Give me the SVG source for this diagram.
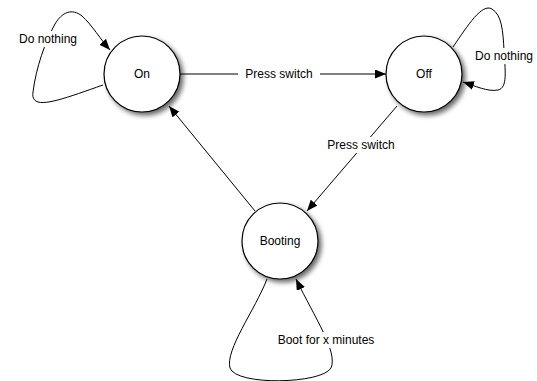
<svg xmlns="http://www.w3.org/2000/svg" width="537" height="381" viewBox="0 0 537 381">
<defs>
<filter id="sh" x="-30%" y="-30%" width="170%" height="170%">
<feGaussianBlur in="SourceAlpha" stdDeviation="2.5"/>
<feOffset dx="3" dy="3" result="b"/>
<feComponentTransfer><feFuncA type="linear" slope="0.6"/></feComponentTransfer>
<feMerge><feMergeNode/><feMergeNode in="SourceGraphic"/></feMerge>
</filter>
<marker id="ah" markerWidth="12" markerHeight="10" refX="11" refY="4.5" orient="auto" markerUnits="userSpaceOnUse">
<path d="M0,0 L11,4.5 L0,9 Z" fill="#000"/>
</marker>
</defs>
<style>
.st{fill:#fff;stroke:#000;stroke-width:1.2;filter:url(#sh)}
.e{fill:none;stroke:#000;stroke-width:1;marker-end:url(#ah)}
text{font-family:"Liberation Sans",Arial,sans-serif;font-size:12px;fill:#000}
.lb{fill:#fff}
</style>
<rect width="537" height="381" fill="#fff"/>
<g id="connectors">
<path class="e" d="M180,74 L386,74"/>
<path class="e" d="M397,106 L307,211"/>
<path class="e" d="M255,211 L169,106"/>
<path class="e" d="M103,85 C60,100 30,112 33,92 C36,68 45,42 55,24 C62,12 72,8 82,16 C92,25 101,40 110,50"/>
<path class="e" d="M453,47 C468,25 482,3 492,9 C502,15 503,32 504,50 C505,70 508,88 498,90 C488,92 475,86 463,82"/>
<path class="e" d="M267,279 C255,310 225,350 230,368 C236,386 322,384 331,368 C338,352 315,318 296,279"/>
<rect class="lb" x="238" y="66" width="82" height="16"/>
<text x="279" y="78" text-anchor="middle">Press switch</text>
<rect class="lb" x="324" y="137" width="74" height="16"/>
<text x="361" y="149" text-anchor="middle">Press switch</text>
<rect class="lb" x="15" y="31" width="66" height="16"/>
<text x="48" y="43" text-anchor="middle">Do nothing</text>
<rect class="lb" x="472" y="48" width="64" height="16"/>
<text x="504" y="60" text-anchor="middle">Do nothing</text>
<rect class="lb" x="272" y="332" width="108" height="16"/>
<text x="326" y="344" text-anchor="middle">Boot for x minutes</text>
</g>
<g id="on"><circle class="st" cx="142" cy="74" r="38"/><text x="142" y="78" text-anchor="middle">On</text></g>
<g id="off"><circle class="st" cx="424" cy="74" r="38"/><text x="424" y="78" text-anchor="middle">Off</text></g>
<g id="booting"><circle class="st" cx="280" cy="241" r="38"/><text x="280" y="245" text-anchor="middle">Booting</text></g>
</svg>
